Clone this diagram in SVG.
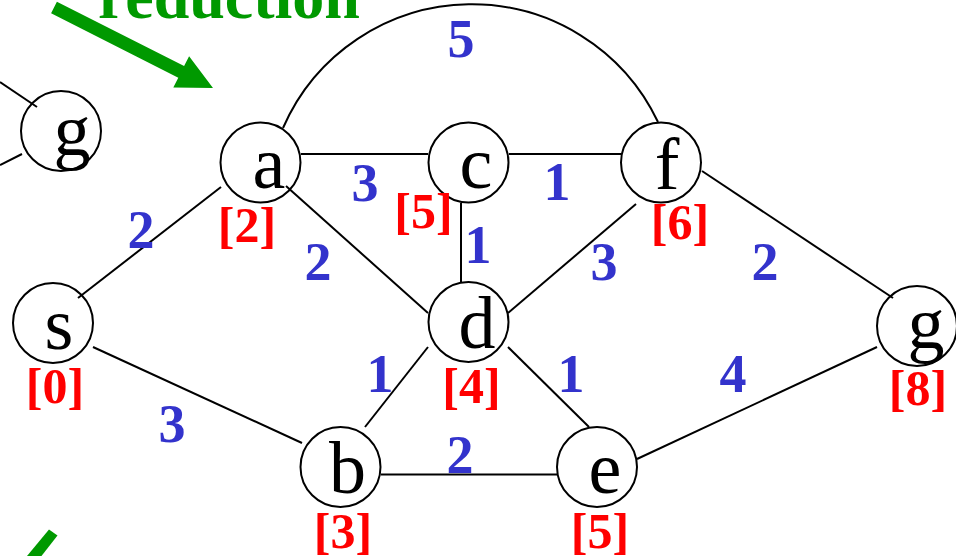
<svg xmlns="http://www.w3.org/2000/svg" width="956" height="556" viewBox="0 0 956 556">
<style>
.e{stroke:#000;stroke-width:2;fill:none}
.n{stroke:#000;stroke-width:2;fill:none}
.t{font-family:"Liberation Serif","Times New Roman",serif;font-size:74px;fill:#000;text-anchor:middle}
.l{font-family:"Liberation Serif","Times New Roman",serif;font-size:50px;font-weight:bold;fill:#FF0000;text-anchor:middle}
.w{font-family:"Liberation Serif","Times New Roman",serif;font-size:54px;font-weight:bold;fill:#3333CC;text-anchor:middle}
.g{fill:#009900}
</style>
<rect width="956" height="556" fill="#fff"/>
<text x="98" y="18" font-family="'Liberation Serif','Times New Roman',serif" font-size="64" font-weight="bold" fill="#009900">reduction</text>
<polygon class="g" points="56.9,1.7 184.1,66.1 189.1,56.3 213,88 173.3,87.5 178.3,77.7 51.1,13.3"/>
<polygon class="g" points="27,556 49,529.5 57.5,535.5 41.5,556"/>
<g id="connectors">
<line class="e" x1="0" y1="82" x2="37" y2="107"/>
<line class="e" x1="0" y1="165" x2="22" y2="154"/>
<line class="e" x1="78" y1="298" x2="221" y2="187"/>
<line class="e" x1="93" y1="347" x2="302" y2="443"/>
<line class="e" x1="301" y1="154" x2="428" y2="154"/>
<line class="e" x1="286" y1="186" x2="428" y2="313"/>
<line class="e" x1="461" y1="203" x2="461" y2="283"/>
<line class="e" x1="509" y1="154" x2="621" y2="154"/>
<line class="e" x1="636" y1="204" x2="508" y2="313"/>
<line class="e" x1="702" y1="171" x2="893" y2="298"/>
<line class="e" x1="428" y1="347" x2="365" y2="427"/>
<line class="e" x1="508" y1="347" x2="589" y2="427"/>
<line class="e" x1="381" y1="474.5" x2="557" y2="474.5"/>
<line class="e" x1="637" y1="459" x2="877" y2="347"/>
<path class="e" d="M283 128 A206 206 0 0 1 658 122"/>
</g>
<g id="weights">
<text class="w" x="461" y="57">5</text>
<text class="w" x="365" y="201">3</text>
<text class="w" x="557" y="200">1</text>
<text class="w" x="478" y="263">1</text>
<text class="w" x="141" y="248">2</text>
<text class="w" x="318" y="280">2</text>
<text class="w" x="604" y="280">3</text>
<text class="w" x="765" y="280">2</text>
<text class="w" x="380" y="392">1</text>
<text class="w" x="571" y="392">1</text>
<text class="w" x="733" y="392">4</text>
<text class="w" x="172" y="442">3</text>
<text class="w" x="460" y="473">2</text>
</g>
<g id="node-g0"><circle class="n" cx="61" cy="131" r="40"/><text class="t" x="72" y="155">g</text></g>
<g id="node-s"><circle class="n" cx="53" cy="323" r="40"/><text class="t" x="59" y="349">s</text><text class="l" x="55" y="403">[0]</text></g>
<g id="node-a"><circle class="n" cx="260.5" cy="162.5" r="40"/><text class="t" x="269" y="188">a</text><text class="l" x="247" y="242">[2]</text></g>
<g id="node-c"><circle class="n" cx="468.5" cy="162.5" r="40"/><text class="t" x="476" y="188">c</text><text class="l" x="423.5" y="228">[5]</text></g>
<g id="node-f"><circle class="n" cx="661" cy="162.5" r="40"/><text class="t" x="667" y="189">f</text><text class="l" x="680" y="239">[6]</text></g>
<g id="node-d"><circle class="n" cx="468.5" cy="322" r="40"/><text class="t" x="477" y="348">d</text><text class="l" x="471.5" y="403">[4]</text></g>
<g id="node-b"><circle class="n" cx="340.5" cy="467" r="40"/><text class="t" x="347.5" y="493">b</text><text class="l" x="343" y="548">[3]</text></g>
<g id="node-e"><circle class="n" cx="597" cy="467" r="40"/><text class="t" x="605" y="493">e</text><text class="l" x="600" y="548">[5]</text></g>
<g id="node-g"><circle class="n" cx="917" cy="326" r="40"/><text class="t" x="926" y="348">g</text><text class="l" x="918" y="405">[8]</text></g>
</svg>
